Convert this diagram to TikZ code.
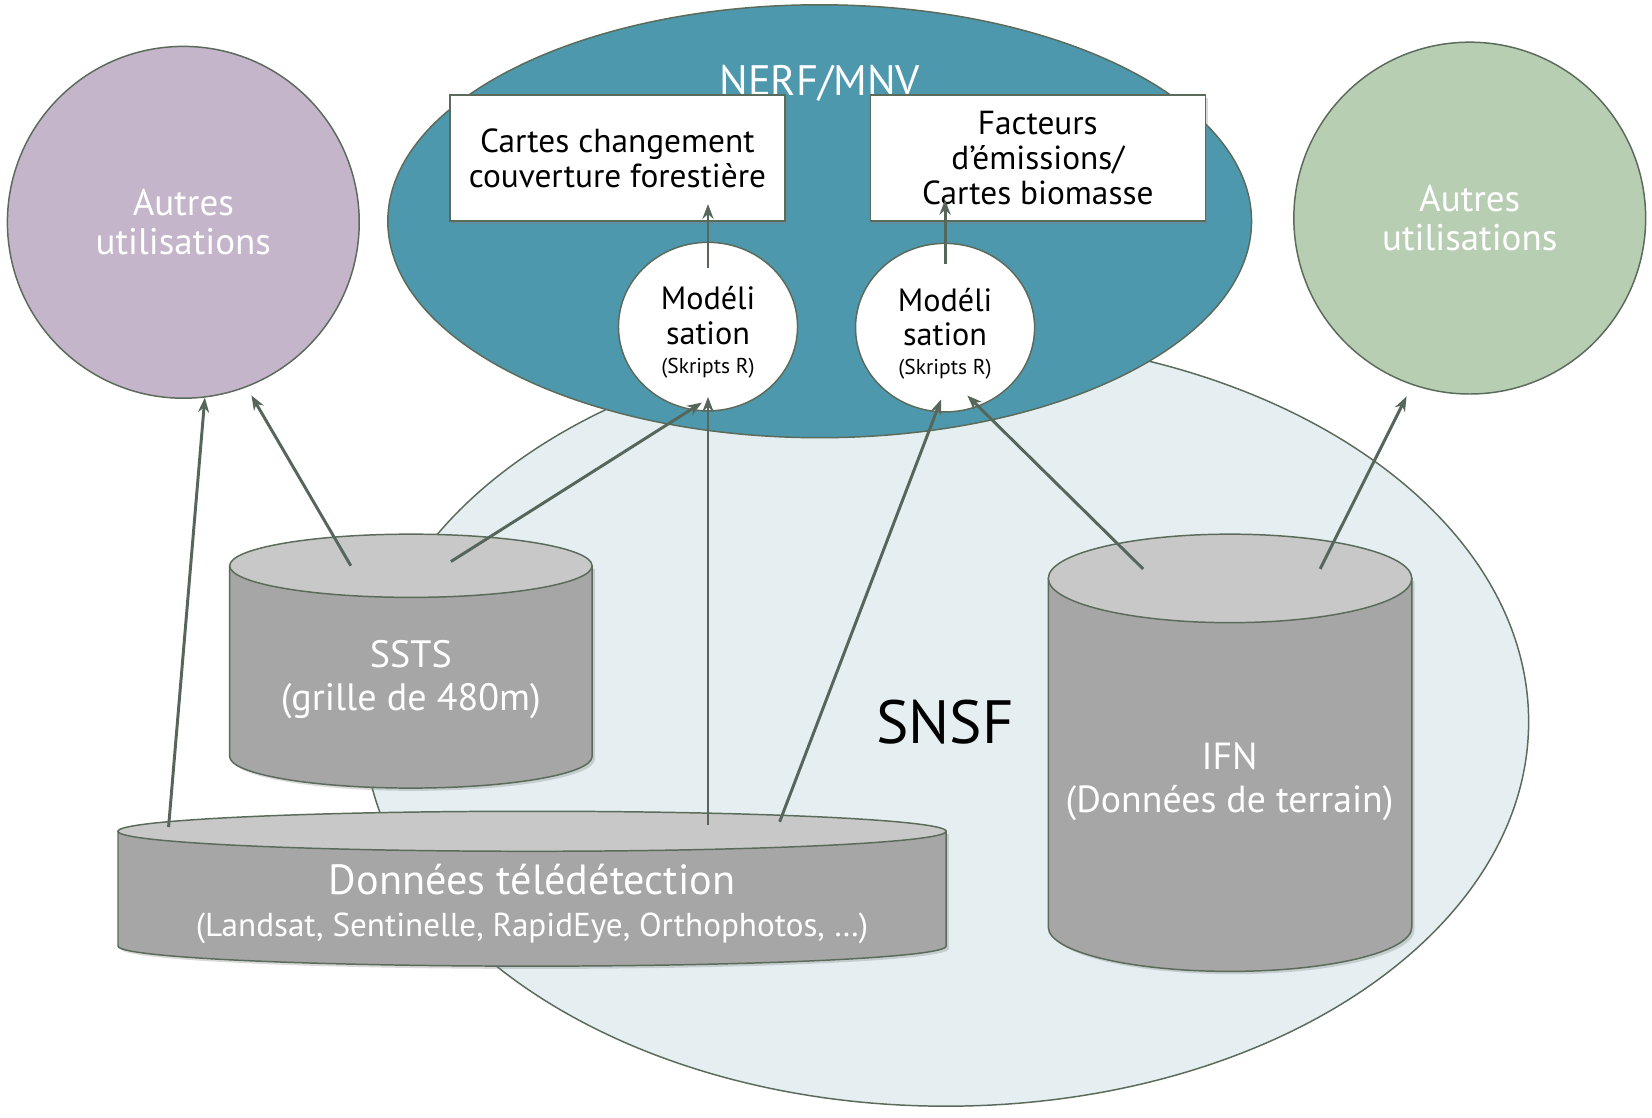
\documentclass[tikz,border=0pt]{standalone}
\usepackage{fontspec}
\setmainfont{PT Sans}
\usepackage{xcolor}
\usepackage{tikz}
\usetikzlibrary{arrows.meta, positioning, calc, shapes.geometric, shadows}
\definecolor{traitC}{HTML}{5B6B5B}
\definecolor{flecheC}{HTML}{56665A}
\definecolor{snsfC}{HTML}{E5EFF2}
\definecolor{nerfC}{HTML}{4E98AE}
\definecolor{mauveC}{HTML}{C5B5CB}
\definecolor{vertC}{HTML}{B8CEB3}
\definecolor{cuveC}{HTML}{A6A6A6}
\definecolor{couvercleC}{HTML}{C8C8C8}

\begin{document}
\begin{tikzpicture}[
    x=0.02cm, y=-0.02cm,
    bord/.style={draw=traitC, line width=0.8pt},
    ombre/.style={drop shadow={shadow xshift=1.5pt, shadow yshift=-1.5pt, opacity=0.3}},
    rond/.style={bord, circle, minimum size=6.68cm, text=white, align=center,
                 font=\fontsize{20}{21}\selectfont},
    carte/.style={bord, ombre, fill=white, minimum width=6.36cm, minimum height=2.4cm,
                  align=center, font=\fontsize{18}{19}\selectfont},
    modele/.style={bord, ellipse, fill=white, minimum width=3.4cm, minimum height=3.2cm,
                   inner sep=0pt, align=center, font=\fontsize{17.4}{18.7}\selectfont},
    etiq/.style={text=white, align=center, font=\fontsize{20.6}{23}\selectfont},
    fleche/.style={-{Stealth[length=8pt, width=6pt]}, draw=flecheC, line width=1.6pt}
  ]
  \useasboundingbox (0,0) rectangle (1568,1061);
  \node[bord, ellipse, fill=snsfC, minimum width=22.12cm, minimum height=14.6cm] (snsf) at (898,685) {};
  \node[font=\fontsize{33}{38}\selectfont] (snsfT) at (897,685) {SNSF};
  \node[bord, ellipse, fill=nerfC, minimum width=16.4cm, minimum height=8.22cm] (nerf) at (778,210) {};
  \node[text=white, font=\fontsize{23}{26}\selectfont] (nerfT) at (778,79) {NERF/MNV};
  \node[rond, fill=mauveC] (autresL) at (174,211) {Autres\\utilisations};
  \node[rond, fill=vertC] (autresR) at (1395,207) {Autres\\utilisations};
  \node[carte] (cartes) at (586,150) {Cartes changement\\couverture forestière};
  \node[carte] (facteurs) at (985,150) {Facteurs\\d’émissions/\\Cartes biomasse};
  \node[modele] (mod1) at (672,310)
    {\rule{0pt}{19pt}Modéli\\sation\\[-3pt]{\fontsize{11.6}{13}\selectfont (Skripts R)}};
  \node[modele] (mod2) at (897,311)
    {\rule{0pt}{19pt}Modéli\\sation\\[-3pt]{\fontsize{11.6}{13}\selectfont (Skripts R)}};
  \foreach \xg/\xd/\yh/\yb/\rx/\ry in {218/562/537/718/172/30, 112/898/789/898/393/19,
                                       995/1340/549/880/172.5/42} {
    \filldraw[bord, ombre, fill=cuveC] (\xg,\yh) -- (\xg,\yb)
      arc[start angle=180, end angle=360, x radius=\rx*0.02cm, y radius=\ry*0.02cm]
      -- (\xd,\yh) -- cycle;
    \filldraw[bord, fill=couvercleC] ({(\xg+\xd)/2},\yh)
      ellipse[x radius=\rx*0.02cm, y radius=\ry*0.02cm];
  }
  \node[etiq] (sstsT) at (390,645) {SSTS\\(grille de 480m)};
  \node[etiq, font=\fontsize{20.4}{23}\selectfont] (ifnT) at (1167,742) {IFN\\(Données de terrain)};
  \node[etiq, font=\fontsize{17.9}{22.7}\selectfont] (donneesT) at (505,858)
    {{\fontsize{22.8}{22.7}\selectfont Données télédétection}\\(Landsat, Sentinelle, RapidEye, Orthophotos, …)};
  \coordinate (donA) at (160,785);
  \coordinate (donB) at (672,783);
  \coordinate (donC) at (740,780);
  \coordinate (sstsA) at (333,537);
  \coordinate (sstsB) at (428,533);
  \coordinate (ifnA) at (1085,540);
  \coordinate (ifnB) at (1253,540);
  \draw[fleche] (donA) -- (autresL.277);
  \draw[fleche, shorten >=0.18cm] (sstsA) -- (autresL.291);
  \draw[fleche, shorten >=-0.26cm] (sstsB) -- (mod1.258);
  \draw[fleche, shorten >=-0.28cm] (donB) -- (mod1.south);
  \draw[fleche, shorten >=-0.26cm] (donC) -- (mod2.264);
  \draw[fleche, shorten >=-0.3cm] (ifnA) -- (mod2.293);
  \draw[fleche, shorten >=0.24cm] (ifnB) -- (autresR.251.5);
  \draw[fleche, shorten <=-0.5cm, shorten >=-0.34cm] (mod1.north) -- (mod1.north |- cartes.south);
  \draw[fleche, shorten <=-0.4cm, shorten >=-0.42cm] (mod2.north) -- (mod2.north |- facteurs.south);
\end{tikzpicture}
\end{document}
